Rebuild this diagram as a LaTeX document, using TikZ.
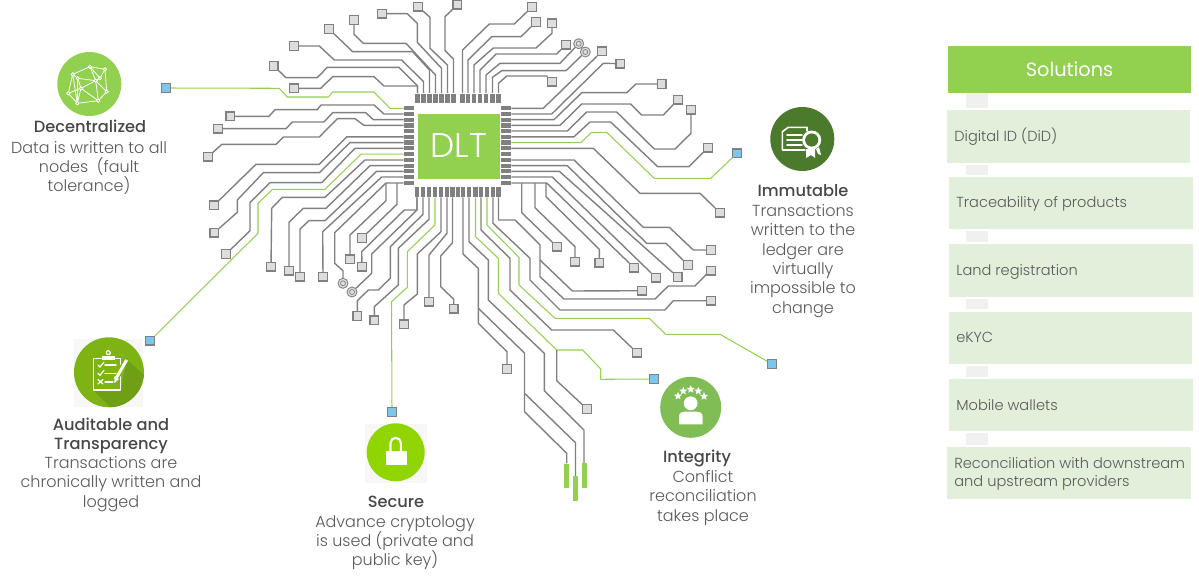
\documentclass[tikz,border=0pt]{standalone}
\usepackage{fontspec}
\usepackage{xcolor}
\usepackage{tikz}
\usetikzlibrary{shapes.geometric}
\setmainfont{Poppins Light}
\newfontfamily\headfont{Poppins Medium}
\newfontfamily\regfont{Poppins}
\definecolor{dltgreen}{HTML}{92D050}
\definecolor{tracegray}{HTML}{808080}
\definecolor{padfill}{HTML}{DDDDDD}
\definecolor{padblue}{HTML}{7CC6EA}
\definecolor{solfill}{HTML}{E2EFDA}
\definecolor{txtgray}{HTML}{595959}
\definecolor{immgreen}{HTML}{4C7A2C}
\definecolor{audgreen}{HTML}{7DB414}
\definecolor{audshade}{HTML}{6E9F14}
\definecolor{secgreen}{HTML}{90D400}
\definecolor{intgreen}{HTML}{80BE55}
\tikzset{
	trace/.style={draw=tracegray, line width=0.8pt, line join=round},
	greentrace/.style={draw=dltgreen, line width=0.6pt, line join=round},
	padbox/.style={draw=tracegray, fill=padfill, line width=0.7pt, minimum size=0.17cm, inner sep=0pt},
	bluepad/.style={padbox, fill=padblue},
	via/.style={circle, draw=tracegray, fill=padfill, line width=0.5pt, minimum size=0.2cm, inner sep=0pt,
		path picture={\draw[tracegray, line width=0.4pt] (path picture bounding box.center) circle (0.05cm);}},
	vpin/.style={fill=tracegray, minimum width=0.085cm, minimum height=0.2cm, inner sep=0pt},
	hpin/.style={fill=tracegray, minimum width=0.2cm, minimum height=0.085cm, inner sep=0pt},
	greenbar/.style={fill=dltgreen, minimum width=0.1cm, minimum height=0.49cm, inner sep=0pt},
	headtxt/.style={font=\headfont\fontsize{9.25}{11.2}\selectfont, text=txtgray!80!black, align=center, inner sep=0pt},
	bodytxt/.style={font=\fontsize{9.1}{11}\selectfont, text=txtgray, align=center, inner sep=0pt},
	soltxt/.style={font=\fontsize{8.3}{10.2}\selectfont, text=txtgray, align=left, anchor=west, inner sep=0pt},
	solbox/.style={fill=solfill, inner sep=0pt, minimum width=4.88cm},
	gapbox/.style={fill=black!6, inner sep=0pt, minimum width=0.44cm},
	icondisc/.style={circle, inner sep=0pt},
	iconline/.style={draw=white, line width=0.7pt, line cap=round, line join=round},
}
\begin{document}
\begin{tikzpicture}[x=0.02cm, y=-0.02cm]
	\useasboundingbox (0,0) rectangle (1199,581);

	% chip
	\node[fill=dltgreen, minimum width=1.64cm, minimum height=1.3cm, inner sep=0pt, text=white, font=\fontsize{19.5}{21}\selectfont] (dlt) at (459,146.5) {\raisebox{1.1pt}{DLT}};
	\foreach \n/\x in {1/417.5,2/423.5,3/429.5,4/435.5,5/441.5,6/447.5,7/453.5,8/462.5,9/468,10/474,11/480,12/486,13/492.5,14/498.5}
		\node[vpin] (pt\n) at (\x,98.5) {};
	\foreach \n/\x in {1/417,2/423,3/429,4/435,5/441,6/447,7/452.5,8/458,9/463,10/469,11/475.5,12/481,13/487,14/493,15/498.5}
		\node[vpin] (pb\n) at (\x,192) {};
	\foreach \n/\y in {1/108.3,2/114,3/119.7,4/125.4,5/131,6/136.8,7/142.6,8/148.3,9/154.2,10/160,11/165.7,12/171.3,13/177,14/183} {
		\node[hpin] (pl\n) at (409,\y) {};
		\node[hpin] (pr\n) at (506,\y) {};
	}

	% pads
	\foreach \n/\x/\y in {t1/457.3/4.7,t2/418/6.7,t3/382/13.7,t4/354/20,t5/329/29,t6/294/46,t7/273.7/66,t8/294/88.3,
		l2/230.3/116.3,l3/218/128.7,l4/208/156.7,l6/214/205.3,l7/214.3/232.7,l8/226/254,l10/271/266.7,l11/289/270.7,l12/300/276.7,l13/323/276.7,
		m1/350/259.3,m2/362/238,m3/362/266.7,m4/357.3/316,m5/374.3/320.3,m6/404/324.3,m7/429/301.7,m8/453.7/308.7,
		b1/507/369,b2/587/409,b3/637/352.7,b4/711/300.7,b5/711/270.7,b6/642/290.7,b7/557/246.7,b8/575/261.7,b9/599.3/262.7,b10/634/267.7,
		r1/602/51.3,r2/620.3/63.7,r3/661.7/84,r4/678/99.7,r5/691/109.7,r6/708/147.7,r8/720/212.7,r9/711/250,r10/688/265,r11/677.7/277,r12/656/277.7,
		u1/532/7,u2/536/22,u3/552/23.3,u4/566/44.7,u7/552/81.7}
		\node[padbox] (pad\n) at (\x,\y) {};
	\foreach \n/\x/\y in {a/166/88,b/150/340.7,c/392/412,d/654/379,e/772/364,f/737/153.3}
		\node[bluepad] (blue\n) at (\x,\y) {};
	\node[via] (via1) at (343,283.3) {};
	\node[via] (via2) at (352,292) {};
	\node[via] (via3) at (578.7,43.7) {};
	\node[via] (via4) at (585.3,52) {};
	\node[greenbar] (bar1) at (566.7,476) {};
	\node[greenbar] (bar2) at (575.5,488.5) {};
	\node[greenbar] (bar3) at (584,475.5) {};

	% top left
	\draw[trace] (pt7) -- (453.5,59) -- (445,50.7) -- (445,16.7) -- (padt1);
	\draw[trace] (pt6) -- (447.5,65) -- (430,48.3) -- (430,17.3) -- (padt2);
	\draw[trace] (pt5) -- (441.5,68.3) -- (417.3,42.3) -- (417.3,23.3) -- (407.3,13.7) -- (padt3);
	\draw[trace] (pt4) -- (435.5,75) -- (406,43.3) -- (363.3,43.3) -- (354,34.3) -- (padt4);
	\draw[trace] (pt3) -- (429.5,70) -- (412.7,51.7) -- (352.7,51.7) -- (padt5);
	\draw[trace] (pt2) -- (423.5,81.7) -- (401.7,60) -- (334.3,60) -- (319.3,46) -- (padt6);
	\draw[trace] (pt1) -- (417.5,86) -- (399,67.3) -- (327.3,67.3) -- (317.3,77.7) -- (286,77.7) -- (padt7);
	\draw[trace] (pt1) -- (417.5,86) -- (384,86) -- (374,76.7) -- (332.7,76.7) -- (320.7,88.3) -- (padt8);
	\draw[greentrace] (pl1) -- (390,108.3) -- (374,92) -- (332.7,92) -- (328.3,97) -- (287.3,97) -- (279.3,88.3) -- (bluea);

	% left
	\draw[trace] (pl2) -- (384,114) -- (374,105) -- (321,105) -- (317.3,109.7) -- (275,109.7) -- (269,116.3) -- (padl2);
	\draw[trace] (pl3) -- (373.3,119.7) -- (365.7,112.7) -- (332.7,112.7) -- (324,122) -- (292.3,122) -- (286,128.7) -- (padl3);
	\draw[trace] (pl4) -- (364,125.4) -- (355,118.7) -- (337.3,118.7) -- (319.3,137) -- (283.3,137) -- (276,144.3) -- (222,144.3) -- (padl4);
	\draw[trace] (pl6) -- (346.7,136.8) -- (319.3,164.3) -- (256,164.3) -- (padl6);
	\draw[trace] (pl7) -- (350,142.6) -- (319.3,172.7) -- (263.3,172.7) -- (237.3,200) -- (237.3,212.3) -- (padl7);
	\draw[trace] (pl8) -- (355,148.3) -- (321.7,182.7) -- (270,182.7) -- (250,202.7) -- (250,230.7) -- (padl8);
	\draw[greentrace] (pl9) -- (361,154.2) -- (325,189.3) -- (272.7,189.3) -- (258,203.3) -- (258,233.3) -- (blueb);
	\draw[trace] (pl10) -- (365,160) -- (325,197.3) -- (282.3,197.3) -- (271.7,208.3) -- (padl10);
	\draw[trace] (pl11) -- (370,165.7) -- (326,208.3) -- (303.3,208.3) -- (289,222.3) -- (padl11);
	\draw[trace] (pl12) -- (376.7,171.3) -- (325,220.7) -- (309,220.7) -- (300,229) -- (padl12);
	\draw[trace] (pl13) -- (381.7,177) -- (322.7,231.7) -- (padl13);
	\draw[trace] (pl14) -- (386,183) -- (334.7,232.7) -- (334.7,263.3) -- (343,270.7) -- (via1);
	\coordinate (brE) at (386,183);
	\coordinate (brF) at (397,183);
	\draw[trace] (brE) -- (386,200.7) -- (350,235) -- (padm1);
	\draw[trace] (brF) -- (397,204.3) -- (padm2);

	% bottom
	\draw[trace] (pb1) -- (417,210) -- (404.3,210) -- (361.7,251.7) -- (padm3);
	\draw[trace] (pb1) -- (417,210) -- (371.7,254) -- (371.7,273.3) -- (via2);
	\draw[trace] (pb2) -- (423,214.3) -- (390.3,246.7) -- (390.3,278.3) -- (378.3,290) -- (368.3,290) -- (357.3,300.7) -- (padm4);
	\draw[trace] (pb3) -- (429,219.3) -- (398.3,248.3) -- (398.3,285) -- (374.3,306.7) -- (padm5);
	\draw[greentrace] (pb4) -- (435,225) -- (407.3,251.7) -- (407.3,287.3) -- (391.5,301.7) -- (bluec);
	\draw[trace] (pb5) -- (441,231.7) -- (417.3,254) -- (417.3,294) -- (404,305) -- (padm6);
	\draw[trace] (pb6) -- (447,233.3) -- (429,255) -- (padm7);
	\draw[trace] (pb7) -- (452.5,242.7) -- (440.7,256) -- (440.7,286.7) -- (453.7,299.3) -- (padm8);
	\draw[trace] (pb9) -- (463,254) -- (478.3,268.3) -- (478.3,323.3) -- (507,351.7) -- (padb1);
	\coordinate (brA) at (478.3,308.3);
	\coordinate (brB) at (524.5,393.3);
	\coordinate (brC) at (556.7,350);
	\coordinate (brD) at (540,260);
	\draw[trace] (brA) -- (524.5,353) -- (524.5,411.7) -- (566.7,453.3) -- (bar1);
	\draw[trace] (brB) -- (575.5,442.7) -- (bar2);
	\draw[trace] (pb10) -- (469,241.7) -- (488.3,260) -- (488.3,300) -- (544.3,353.3) -- (544.3,390.7) -- (584,430) -- (bar3);
	\draw[greentrace] (pb11) -- (475.5,236.7) -- (498.3,258.3) -- (498.3,293.3) -- (556.7,350) -- (582.7,350) -- (600.7,369) -- (600.7,379.3) -- (blued);
	\draw[trace] (brC) -- (556.7,380.7) -- (padb2);
	\draw[trace] (pb12) -- (481,230) -- (510,258.3) -- (510,290) -- (551.7,330) -- (613.3,330) -- (padb3);
	\draw[greentrace] (pb13) -- (487,225) -- (519,257.3) -- (519,285) -- (555,318.3) -- (649.3,318.3) -- (665.7,334.3) -- (720,334.3) -- (bluee);
	\draw[trace] (pb14) -- (493,223.3) -- (530,258.3) -- (530,280) -- (560,310) -- (665,310) -- (673.3,300.7) -- (padb4);
	\draw[trace] (pb15) -- (498.5,220) -- (515,220) -- (540,245) -- (540,276.7) -- (564,299) -- (655,299) -- (668.3,286) -- (695,286) -- (706.7,274) -- (padb5);
	\draw[trace] (brD) -- (572.3,291) -- (padb6);

	% right
	\draw[trace] (pr14) -- (546.7,183) -- (padb10);
	\draw[trace] (521.7,183) -- (521.7,212.7) -- (padb7);
	\draw[trace] (535,183) -- (535,207.7) -- (575,246.7) -- (padb8);
	\draw[trace] (546,183) -- (546,196.7) -- (599.3,249.3) -- (padb9);
	\draw[trace] (pr13) -- (552.3,177) -- (padr12);
	\draw[trace] (pr12) -- (559.3,171.3) -- (padr11);
	\draw[trace] (pr11) -- (567.3,165.7) -- (646.7,243.3) -- (666,243.3) -- (padr10);
	\draw[trace] (pr10) -- (574,160) -- (643.3,227.3) -- (669.3,227.3) -- (693.3,250) -- (padr9);
	\draw[trace] (pr8) -- (593.3,148.3) -- (640,193.3) -- (700,193.3) -- (padr8);
	\draw[greentrace] (pr7) -- (580.7,142.6) -- (591.7,132.3) -- (606.7,132.3) -- (654.3,178.3) -- (710.7,178.3) -- (bluef);
	\draw[trace] (pr6) -- (574,136.8) -- (590,122) -- (610.7,122) -- (657.7,166.7) -- (689,166.7) -- (padr6);
	\draw[trace] (pr5) -- (567.3,131) -- (586.7,112) -- (616.7,112) -- (654.3,149) -- (675,149) -- (691,133.3) -- (padr5);
	\draw[trace] (pr4) -- (560,125.4) -- (581.7,104) -- (630.7,104) -- (641.7,115) -- (663.3,115) -- (padr4);
	\draw[trace] (pr3) -- (554,119.7) -- (581.7,92.7) -- (626.7,92.7) -- (636,84) -- (padr3);
	\draw[trace] (pr2) -- (551.7,114) -- (603.3,63.3) -- (padr2);
	\draw[trace] (pr1) -- (543.3,108.3) -- (padr1);

	% top right
	\draw[trace] (pt8) -- (462.5,50) -- (489.3,24) -- (514.3,24) -- (padu1);
	\draw[trace] (pt9) -- (468,60) -- (491.7,36.7) -- (521,36.7) -- (padu2);
	\draw[trace] (pt10) -- (474,65) -- (493.3,48) -- (536,48) -- (552,33.3) -- (padu3);
	\draw[trace] (pt11) -- (480,70) -- (496,54) -- (556.7,54) -- (padu4);
	\draw[trace] (pt12) -- (486,75) -- (500,63.3) -- (560,63.3) -- (via3);
	\draw[trace] (pt13) -- (492.5,77.3) -- (501.7,70.7) -- (566,70.7) -- (via4);
	\draw[trace] (pt14) -- (498.5,83.3) -- (506.7,76) -- (546.7,76) -- (padu7);

	% decentralized
	\node[icondisc, fill=dltgreen, minimum size=1.28cm] (decIcon) at (89.3,84) {};
	\foreach \n/\x/\y in {a/90/66.7,b/105/69.3,c/72.7/74.3,d/77.7/78.3,e/95.7/80.7,f/100/78.3,g/106.7/91.7,h/81/88.3,i/68.3/93.3,j/77.3/103.3,k/98.3/100.7}
		\coordinate (net\n) at (\x,\y);
	\foreach \p/\q in {a/b,a/c,a/e,b/f,b/g,c/d,c/i,c/j,i/j,j/k,k/g,d/e,d/h,h/e,h/k,h/i,e/g,e/k,f/e,d/j,a/f,h/j}
		\draw[iconline, line width=0.45pt] (net\p) -- (net\q);
	\foreach \n in {a,b,c,d,e,f,g,h,i,j,k}
		\draw[white, fill=dltgreen, line width=0.45pt] (net\n) circle (1.6);
	\node[headtxt] (decHead) at (90,126) {Decentralized};
	\node[bodytxt] (decBody) at (89,168) {Data is written to all\\nodes~~(fault\\tolerance)};

	% immutable
	\node[icondisc, fill=immgreen, minimum size=1.28cm] (immIcon) at (802.3,139) {};
	\draw[iconline, line width=0.9pt] (805,150) -- (782.3,150) -- (782.3,131.7) -- (788.3,127.3) -- (807,127.3) -- (807,131);
	\foreach \y in {135,140,145}
		\draw[iconline, line width=0.9pt] (787,\y) -- (802,\y);
	\fill[white] (806,149) -- (806,158) -- (811,155) -- (815,158) -- (815,149) -- cycle;
	\fill[white] (816,149) -- (818,154) -- (821,155) -- (819,147) -- cycle;
	\fill[white] (811.7,140) circle (9.5);
	\fill[immgreen] (811.7,140) circle (6.6);
	\node[headtxt] (immHead) at (803,191) {Immutable};
	\node[bodytxt] (immBody) at (803,261) {Transactions\\written to the\\ledger are\\virtually\\impossible to\\change};

	% auditable
	\fill[black!3] (74,339) rectangle (143,407);
	\node[icondisc, fill=audgreen, minimum size=1.4cm] (audIcon) at (109,372.3) {};
	\begin{scope}
		\clip (109,372.3) circle (35);
		\fill[audshade] (120.7,390) -- (93.3,390) -- (115,412) -- (150,412) -- (150,380) -- (127,360) -- cycle;
	\end{scope}
	\draw[iconline, line width=0.9pt] (101.7,358.3) -- (93.3,358.3) -- (93.3,390) -- (120.7,390) -- (120.7,377);
	\draw[iconline, line width=0.9pt] (115,358.3) -- (120.7,358.3) -- (120.7,364);
	\fill[white] (101.7,356) rectangle (115,360);
	\draw[iconline] (108.3,352.7) circle (2);
	\foreach \y in {365,373.3} {
		\draw[iconline] (98,\y) -- (100,\y+2) -- (104,\y-3);
		\draw[iconline] (105,\y) -- (116,\y);
	}
	\draw[iconline] (98,379.5) -- (103,384);
	\draw[iconline] (103,379.5) -- (98,384);
	\draw[iconline] (105,382) -- (113,382);
	\draw[iconline, line width=1.7pt, line cap=butt] (126.7,360) -- (116.5,377.5);
	\fill[white] (114.2,376.5) -- (119,379) -- (114.5,383) -- cycle;
	\node[headtxt] (audHead) at (111,436) {Auditable and\\Transparency};
	\node[bodytxt] (audBody) at (111,484) {Transactions are\\chronically written and\\logged};

	% secure
	\fill[black!3] (365,424) rectangle (426.7,483);
	\node[icondisc, fill=secgreen, minimum size=1.16cm] (secIcon) at (395.7,452.3) {};
	\draw[white, line width=1.2pt] (390.5,451) -- (390.5,443) arc[start angle=180, end angle=360, radius=5.2] -- (400.9,451);
	\fill[white] (385.7,451) rectangle (406.7,465);
	\node[headtxt] (secHead) at (396,502) {Secure};
	\node[bodytxt] (secBody) at (395,542.5) {Advance cryptology\\is used (private and\\public key)};

	% integrity
	\node[icondisc, fill=intgreen, minimum size=1.22cm] (intIcon) at (690.7,407.3) {};
	\foreach \n/\x/\y in {a/678/396,b/683.3/391,c/690.7/389.3,d/698.3/391,e/704/396.3}
		\node[star, star points=5, star point ratio=2.25, fill=white, minimum size=0.17cm, inner sep=0pt] (intStar\n) at (\x,\y) {};
	\fill[white] (690.7,403.3) circle (6.9);
	\fill[white] (679,424.3) -- (679,417) .. controls (679,412.5) and (682,411.5) .. (685,411.5) -- (696,411.5) .. controls (699,411.5) and (702.7,412.5) .. (702.7,417) -- (702.7,424.3) -- cycle;
	\node[headtxt] (intHead) at (697,458.5) {Integrity};
	\node[bodytxt] (intBody) at (703,498) {Conflict\\reconciliation\\takes place};

	% solutions
	\node[fill=dltgreen, minimum width=4.86cm, minimum height=0.93cm, inner sep=0pt, text=white, font=\regfont\fontsize{11}{13}\selectfont] (solHead) at (1069.5,69.3) {Solutions};
	\foreach \n/\y/\h in {a/100.5/0.29,b/170/0.2,c/236.5/0.22,d/304/0.2,e/371.5/0.22,f/439/0.24}
		\node[gapbox, minimum height=\h cm] (gap\n) at (977,\y) {};
	\node[solbox, minimum height=1.05cm] (solA) at (1068.5,136.3) {};
	\node[solbox, minimum height=1.04cm] (solB) at (1071,203) {};
	\node[solbox, minimum height=1.06cm] (solC) at (1071,270.5) {};
	\node[solbox, minimum height=1.04cm] (solD) at (1070.5,338) {};
	\node[solbox, minimum height=1.04cm] (solE) at (1071,405) {};
	\node[solbox, minimum height=1.04cm] (solF) at (1069,473) {};
	\node[soltxt] (solAt) at (954,136.5) {Digital ID (DiD)};
	\node[soltxt] (solBt) at (956,204) {Traceability of products};
	\node[soltxt] (solCt) at (956,272) {Land registration};
	\node[soltxt] (solDt) at (956,337.5) {eKYC};
	\node[soltxt] (solEt) at (956,405.5) {Mobile wallets};
	\node[soltxt] (solFt) at (954,474) {Reconciliation with downstream\\and upstream providers};
\end{tikzpicture}
\end{document}
